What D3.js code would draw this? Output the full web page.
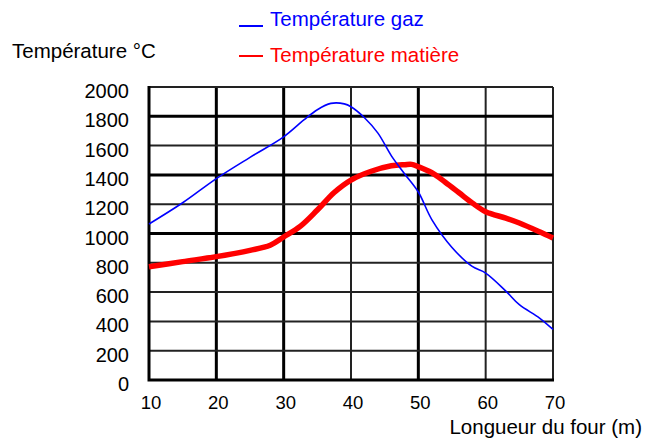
<!DOCTYPE html>
<html>
<head>
<meta charset="utf-8">
<script src="https://cdn.jsdelivr.net/npm/d3@7"></script>
<style>
  body { margin: 0; background: #fff; }
  text { font-family: "Liberation Sans", Arial, sans-serif; }
</style>
</head>
<body>
<div id="chart"></div>
<script>
// furnace length (m) and temperatures
const gas_length = [10, 15, 20, 25, 30, 33, 35, 37, 39, 40, 42, 44, 46, 48, 50, 52, 55, 58, 60, 63, 65, 68, 70];
const gas_temp   = [1065, 1210, 1375, 1520, 1660, 1775, 1845, 1888, 1885, 1865, 1790, 1685, 1530, 1405, 1283, 1095, 905, 775, 730, 607, 514, 423, 345];

const mat_length = [10, 15, 20, 25, 28, 30, 32.5, 35, 37.5, 40, 43, 46, 48, 49, 50, 52, 54, 56, 58, 60, 63, 65, 68, 70];
const mat_temp   = [773, 808, 842, 885, 920, 976, 1050, 1160, 1280, 1365, 1425, 1462, 1470, 1472, 1456, 1415, 1350, 1280, 1209, 1149, 1105, 1072, 1012, 969];

const x_ticks = [10, 20, 30, 40, 50, 60, 70];
const y_ticks = [0, 200, 400, 600, 800, 1000, 1200, 1400, 1600, 1800, 2000];

const y_title = "Température °C";
const x_title = "Longueur du four (m)";
const legend_labels = ["Température gaz", "Température matière"];

class furnace_chart{

    constructor(div_id, width, height){
        var self = this;
        self.width = width;
        self.height = height;

        self.svg = d3.select(`#${div_id}`).append("svg")
            .attr("width", width)
            .attr("height", height)

        // plot box
        self.xScale = d3.scaleLinear()
            .domain([10, 70])
            .range([149, 553])

        self.yScale = d3.scaleLinear()
            .domain([0, 2000])
            .range([380, 87])
    }

    draw(){
        var self = this;
        let heavy_x = new Set([20, 30, 50]);
        let heavy_y = new Set([1000, 1400, 1800]);

        let grid = self.svg.append("g").attr("class", "grid");

        grid.selectAll(".vline")
            .data(x_ticks.slice(1))
            .enter()
            .append("line")
                .attr("x1", d => self.xScale(d))
                .attr("x2", d => self.xScale(d))
                .attr("y1", self.yScale(2000))
                .attr("y2", self.yScale(0))
                .attr("stroke", d => heavy_x.has(d) ? "#000" : "#222")
                .attr("stroke-width", d => heavy_x.has(d) ? 3 : 2)

        grid.selectAll(".hline")
            .data(y_ticks.slice(1))
            .enter()
            .append("line")
                .attr("x1", self.xScale(10))
                .attr("x2", self.xScale(70))
                .attr("y1", d => self.yScale(d))
                .attr("y2", d => self.yScale(d))
                .attr("stroke", d => heavy_y.has(d) ? "#000" : "#222")
                .attr("stroke-width", d => heavy_y.has(d) ? 3 : 2)

        // left and bottom frame
        grid.append("path")
            .attr("d", `M${self.xScale(10)},${self.yScale(2000) - 1}V${self.yScale(0)}H${self.xScale(70) + 1}`)
            .attr("fill", "none")
            .attr("stroke", "#000")
            .attr("stroke-width", 3)

        // tick labels
        self.svg.append("g")
            .selectAll("text")
            .data(y_ticks)
            .enter()
            .append("text")
                .attr("x", 129)
                .attr("y", d => self.yScale(d) + 4)
                .attr("dy", "0.35em")
                .attr("text-anchor", "end")
                .attr("font-size", 20)
                .attr("fill", "#000")
                .text(d => d)

        self.svg.append("g")
            .selectAll("text")
            .data(x_ticks)
            .enter()
            .append("text")
                .attr("x", d => self.xScale(d) + 2)
                .attr("y", 403)
                .attr("dy", "0.35em")
                .attr("text-anchor", "middle")
                .attr("font-size", 18.5)
                .attr("fill", "#000")
                .text(d => d)

        self.svg.append("text")
            .attr("x", 642)
            .attr("y", 434)
            .attr("text-anchor", "end")
            .attr("font-size", 20.5)
            .text(x_title)

        self.svg.append("text")
            .attr("x", 12)
            .attr("y", 58)
            .attr("font-size", 20.5)
            .text(y_title)

        // curves
        let gas_line = d3.line()
            .x((d, i) => self.xScale(gas_length[i]))
            .y(d => self.yScale(d))
            .curve(d3.curveCatmullRom)

        let mat_line = d3.line()
            .x((d, i) => self.xScale(mat_length[i]))
            .y(d => self.yScale(d))
            .curve(d3.curveCatmullRom)

        self.svg.append("path")
            .datum(mat_temp)
            .attr("d", mat_line)
            .attr("fill", "none")
            .attr("stroke", "#ff0000")
            .attr("stroke-width", 5.5)

        self.svg.append("path")
            .datum(gas_temp)
            .attr("d", gas_line)
            .attr("fill", "none")
            .attr("stroke", "#0000ff")
            .attr("stroke-width", 1.6)

        // legend
        let colors = ["#0000ff", "#ff0000"];
        let leg = self.svg.append("g").attr("class", "legend");
        leg.selectAll("line")
            .data(legend_labels)
            .enter()
            .append("line")
                .attr("x1", 239)
                .attr("x2", 263)
                .attr("y1", (d, i) => i == 0 ? 26 : 56)
                .attr("y2", (d, i) => i == 0 ? 26 : 56)
                .attr("stroke", (d, i) => colors[i])
                .attr("stroke-width", 2)
        leg.selectAll("text")
            .data(legend_labels)
            .enter()
            .append("text")
                .attr("x", 270)
                .attr("y", (d, i) => i == 0 ? 26 : 62)
                .attr("font-size", 20.5)
                .attr("fill", (d, i) => colors[i])
                .text(d => d)
    }
}

let chart = new furnace_chart("chart", 645, 448);
chart.draw();
</script>
</body>
</html>
